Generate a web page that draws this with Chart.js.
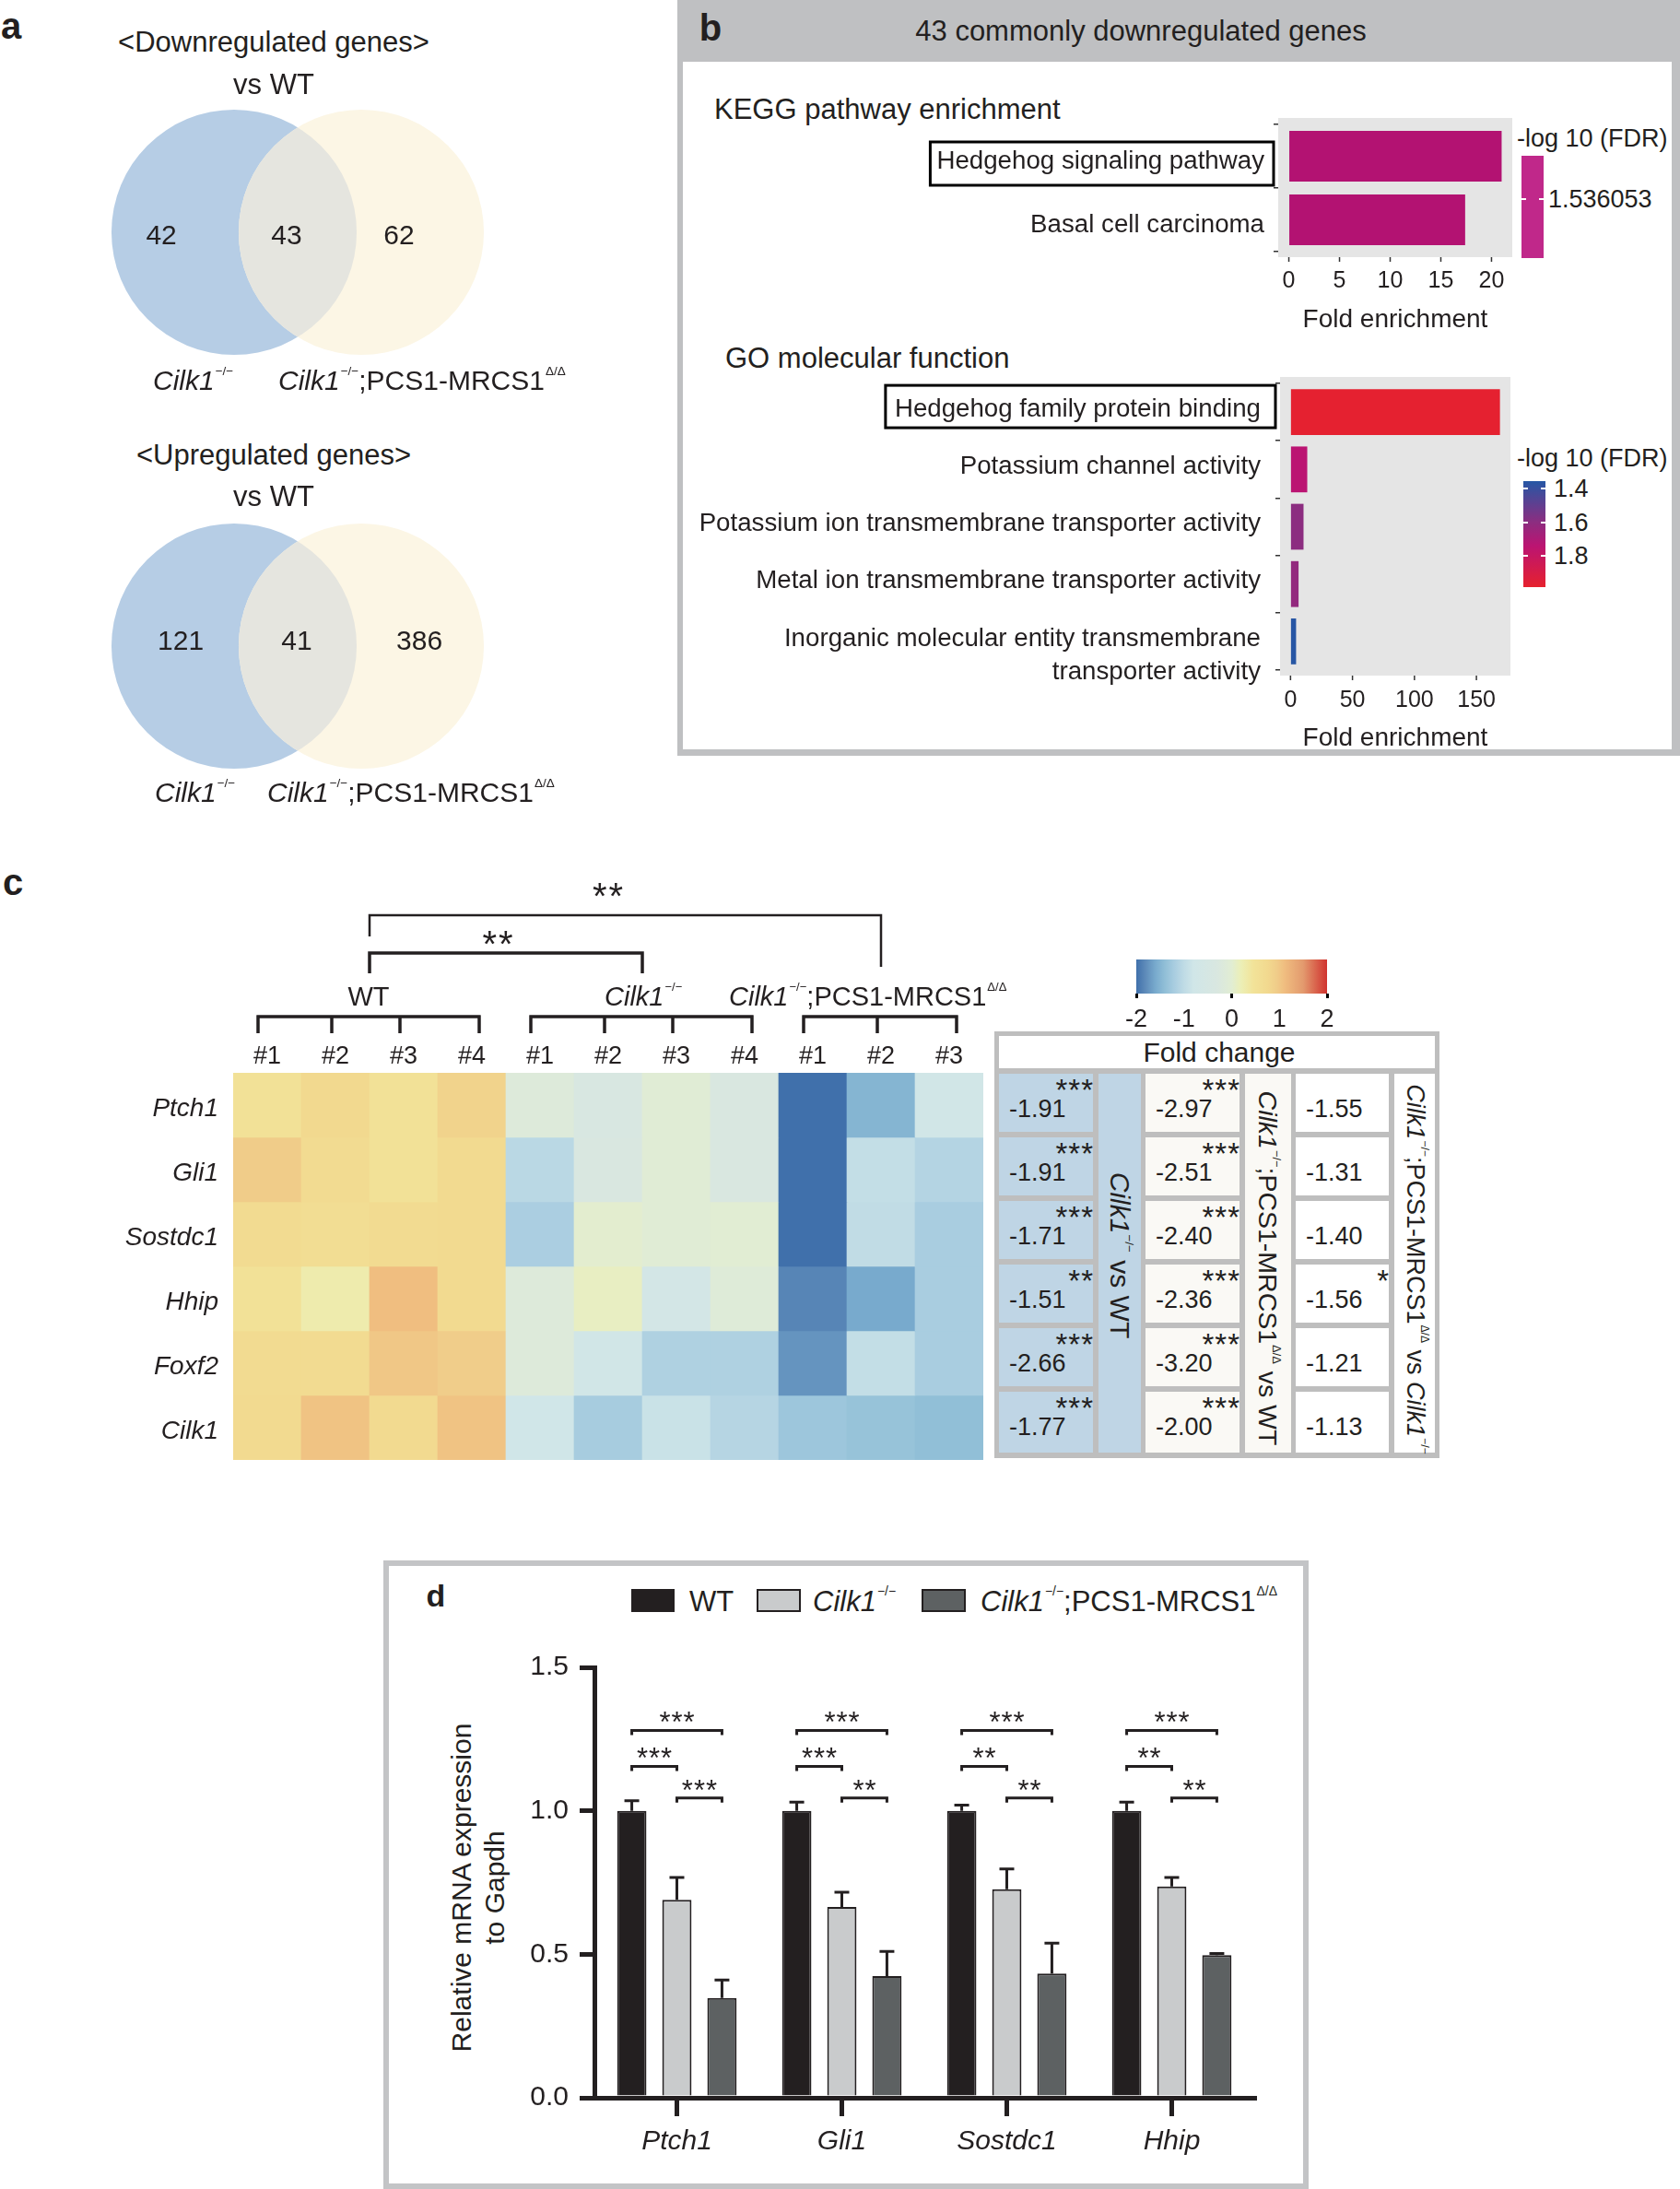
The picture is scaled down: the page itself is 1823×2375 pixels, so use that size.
<!DOCTYPE html>
<html>
<head>
<meta charset="utf-8">
<script src="https://cdn.jsdelivr.net/npm/chart.js@4.4.1/dist/chart.umd.min.js"></script>
<style>
  body { margin: 0; background: #fff; }
  #page { position: relative; width: 1823px; height: 2375px; overflow: hidden;
          font-family: "Liberation Sans", Arial, sans-serif; color: #231f20; }
  .t { position: absolute; white-space: nowrap; line-height: 1; }
  .sp { font-size: 45%; position: relative; top: -1.2em; margin-left: 1px; font-style: normal; }
  .r { position: absolute; box-sizing: border-box; }
  canvas { position: absolute; }
</style>
</head>
<body>
<div id="page"></div>
<script>
// ---- panel a : venn counts
const vennSets = ['Cilk1-/-', 'Cilk1-/-;PCS1-MRCS1'];
const downCounts = [42, 43, 62];
const upCounts = [121, 41, 386];

// ---- panel b : enrichment
const keggTerms = ['Hedgehog signaling pathway', 'Basal cell carcinoma'];
const keggFold = [21.0, 17.4];
const keggFdr = [1.536053, 1.536053];
const goTerms = ['Hedgehog family protein binding', 'Potassium channel activity',
  'Potassium ion transmembrane transporter activity', 'Metal ion transmembrane transporter activity',
  ['Inorganic molecular entity transmembrane', 'transporter activity']];
const goFold = [169, 13.5, 10.5, 6.5, 4.5];
const goFdr = [1.98, 1.74, 1.60, 1.62, 1.36];

// ---- panel c : heatmap (row z-scores) + fold change table
const heatGenes = ['Ptch1', 'Gli1', 'Sostdc1', 'Hhip', 'Foxf2', 'Cilk1'];
const heatSamples = ['#1', '#2', '#3', '#4', '#1', '#2', '#3', '#4', '#1', '#2', '#3'];
const heatGroups = ['WT', 'WT', 'WT', 'WT', 'KO', 'KO', 'KO', 'KO', 'DKO', 'DKO', 'DKO'];
const heatZ = [
  [0.50, 0.75, 0.50, 0.85, -0.15, -0.35, -0.05, -0.30, -2.00, -1.50, -0.75],
  [0.95, 0.70, 0.50, 0.72, -1.05, -0.30, -0.05, -0.30, -2.00, -0.95, -1.10],
  [0.68, 0.62, 0.68, 0.72, -1.18, 0.03, -0.05, 0.00, -2.05, -0.98, -1.20],
  [0.50, 0.28, 1.10, 0.72, -0.15, 0.12, -0.65, -0.12, -1.85, -1.60, -1.20],
  [0.68, 0.68, 1.00, 0.93, -0.15, -0.75, -1.15, -1.15, -1.75, -0.95, -1.20],
  [0.72, 1.05, 0.72, 1.05, -0.78, -1.22, -0.88, -1.08, -1.30, -1.35, -1.40]
];
const fcKoWt = ['-1.91', '-1.91', '-1.71', '-1.51', '-2.66', '-1.77'];
const sigKoWt = ['***', '***', '***', '**', '***', '***'];
const fcDkoWt = ['-2.97', '-2.51', '-2.40', '-2.36', '-3.20', '-2.00'];
const sigDkoWt = ['***', '***', '***', '***', '***', '***'];
const fcDkoKo = ['-1.55', '-1.31', '-1.40', '-1.56', '-1.21', '-1.13'];
const sigDkoKo = ['', '', '', '*', '', ''];
const heatTicks = [-2, -1, 0, 1, 2];

// ---- panel d : qPCR
const qGenes = ['Ptch1', 'Gli1', 'Sostdc1', 'Hhip'];
const wtMean = [1.0, 1.0, 1.0, 1.0];
const wtErr = [0.035, 0.03, 0.02, 0.03];
const koMean = [0.69, 0.665, 0.727, 0.736];
const koErr = [0.078, 0.051, 0.07, 0.032];
const dkoMean = [0.348, 0.424, 0.433, 0.497];
const dkoErr = [0.062, 0.086, 0.106, 0.006];
const sigWtKo = ['***', '***', '**', '**'];
const sigKoDko = ['***', '**', '**', '**'];
const sigWtDko = ['***', '***', '***', '***'];

const FONT = '"Liberation Sans", Arial, sans-serif';
Chart.defaults.font.family = FONT;
Chart.defaults.color = '#231f20';
Chart.defaults.animation = false;
Chart.defaults.responsive = false;
Chart.defaults.maintainAspectRatio = false;
Chart.defaults.plugins.legend.display = false;
Chart.defaults.plugins.tooltip.enabled = false;

const page = document.getElementById('page');
const KO = '<i>Cilk1</i><span class="sp">−/−</span>';
const DKO = KO + ';PCS1-MRCS1<span class="sp">Δ/Δ</span>';

function put(html, x, y, size, anchor, style) {
  const d = document.createElement('div');
  d.className = 't';
  d.innerHTML = html;
  d.style.left = x + 'px';
  d.style.top = y + 'px';
  d.style.fontSize = size + 'px';
  const tx = anchor === 'l' ? '0' : anchor === 'r' ? '-100%' : '-50%';
  d.style.transform = 'translate(' + tx + ',-50%)';
  if (style) d.style.cssText += style;
  page.appendChild(d);
  return d;
}
function rect(x, y, w, h, bg, style) {
  const d = document.createElement('div');
  d.className = 'r';
  d.style.cssText = `left:${x}px;top:${y}px;width:${w}px;height:${h}px;background:${bg};` + (style || '');
  page.appendChild(d);
  return d;
}
function canvasAt(x, y, w, h) {
  const c = document.createElement('canvas');
  c.width = w; c.height = h;
  c.style.left = x + 'px'; c.style.top = y + 'px';
  c.style.width = w + 'px'; c.style.height = h + 'px';
  page.appendChild(c);
  return c;
}
// keep label overhang from shrinking the plot area
function noPad(s) { s.paddingTop = 0; s.paddingBottom = 0; s.paddingLeft = 0; s.paddingRight = 0; }
function hex2rgb(h) { return [1, 3, 5].map(i => parseInt(h.substr(i, 2), 16)); }
function rampColor(stops, v) {
  if (v <= stops[0][0]) return stops[0][1];
  for (let i = 1; i < stops.length; i++) {
    if (v <= stops[i][0]) {
      const [v0, c0] = stops[i - 1], [v1, c1] = stops[i];
      const t = (v - v0) / (v1 - v0), a = hex2rgb(c0), b = hex2rgb(c1);
      return 'rgb(' + a.map((x, k) => Math.round(x + (b[k] - x) * t)).join(',') + ')';
    }
  }
  return stops[stops.length - 1][1];
}
function gradientCss(stops, dir, lo, hi) {
  return 'linear-gradient(' + dir + ',' + stops.map(s => s[1] + ' ' + ((s[0] - lo) / (hi - lo) * 100).toFixed(1) + '%').join(',') + ')';
}

const heatStops = [[-2.0, '#4070ab'], [-1.8, '#5f8cba'], [-1.6, '#78aacd'], [-1.4, '#91bfd7'],
  [-1.2, '#a9cde0'], [-1.0, '#bfdbe5'], [-0.8, '#d0e6e8'], [-0.3, '#d9e7e0'], [0, '#e1edd3'],
  [0.2, '#ecefb6'], [0.45, '#f2e399'], [0.75, '#f2d98f'], [0.95, '#f0cc89'], [1.1, '#f0be80'],
  [1.5, '#e39a6e'], [2.0, '#d0332f']];
const fdrStops = [[1.356, '#2557a5'], [1.6, '#8c2d80'], [1.74, '#bb1472'], [1.986, '#e6212e']];

// ================= panel a =================
const vennPlugin = {
  id: 'venn',
  beforeDatasetsDraw(chart, args, o) {
    const { ctx, scales: { x, y } } = chart;
    const pts = chart.data.datasets[0].data;
    const r = x.getPixelForValue(o.r) - x.getPixelForValue(0);
    const c = pts.map(p => [x.getPixelForValue(p.x), y.getPixelForValue(p.y)]);
    ctx.save();
    ['#b6cde5', '#fcf6e5'].forEach((col, i) => {
      ctx.beginPath(); ctx.arc(c[i][0], c[i][1], r, 0, Math.PI * 2);
      ctx.fillStyle = col; ctx.fill();
    });
    ctx.beginPath(); ctx.arc(c[0][0], c[0][1], r, 0, Math.PI * 2); ctx.clip();
    ctx.beginPath(); ctx.arc(c[1][0], c[1][1], r, 0, Math.PI * 2);
    ctx.fillStyle = '#e5e5df'; ctx.fill();
    ctx.restore();
    ctx.save();
    ctx.font = '30px ' + FONT; ctx.fillStyle = '#231f20';
    ctx.textAlign = 'center'; ctx.textBaseline = 'middle';
    o.counts.forEach((n, i) => ctx.fillText(String(n), x.getPixelForValue(o.labelX[i]), c[0][1] + o.dy));
    ctx.restore();
  }
};
function venn(top, counts, labelX, dy) {
  new Chart(canvasAt(0, top, 735, 320), {
    type: 'scatter',
    data: { datasets: [{ data: vennSets.map((s, i) => ({ x: i, y: 0 })), pointRadius: 0 }] },
    options: {
      scales: { x: { type: 'linear', min: -1.8406, max: 3.4855, display: false },
                y: { min: -1.16, max: 1.16, display: false } },
      plugins: { venn: { counts, labelX, dy, r: 0.964 } }
    },
    plugins: [vennPlugin]
  });
}
venn(92, downCounts, [-0.572, 0.413, 1.297], 5);
venn(541, upCounts, [-0.42, 0.493, 1.457], -4);

put('<b>a</b>', 12, 28, 40);
put('&lt;Downregulated genes&gt;', 297, 45, 31);
put('vs WT', 297, 91, 31);
put(KO, 166, 413, 30, 'l');
put(DKO, 302, 413, 30, 'l');
put('&lt;Upregulated genes&gt;', 297, 493, 31);
put('vs WT', 297, 538, 31);
put(KO, 168, 860, 30, 'l');
put(DKO, 290, 860, 30, 'l');

// ================= panel b =================
rect(735, 0, 1088, 820, '#bfc0c2');
rect(741, 67, 1073, 746, '#ffffff');
put('<b>b</b>', 771, 30, 40);
put('43 commonly downregulated genes', 1238, 33, 31);
put('KEGG pathway enrichment', 775, 118, 31, 'l');
put('GO molecular function', 787, 388, 31, 'l');

// grey ggplot panel, a little taller than the bar slots, with x tick marks under it
const panelBg = {
  id: 'panelBg',
  beforeDraw(chart, args, o) {
    const { ctx, chartArea: c, scales: { x } } = chart;
    const bottom = c.bottom + o.extBottom;
    ctx.save(); ctx.fillStyle = o.color;
    ctx.fillRect(c.left, c.top - o.extTop, c.right - c.left, bottom - c.top + o.extTop);
    ctx.strokeStyle = '#333'; ctx.lineWidth = 1.5;
    x.ticks.forEach(t => {
      const px = x.getPixelForValue(t.value);
      ctx.beginPath(); ctx.moveTo(px, bottom); ctx.lineTo(px, bottom + 5); ctx.stroke();
    });
    ctx.restore();
  }
};
const labelBox = {
  id: 'labelBox',
  afterDraw(chart, args, o) {
    const { ctx, scales: { y }, chartArea } = chart;
    const yy = y.getPixelForTick(o.index) + o.dy;
    ctx.save();
    ctx.font = '27.7px ' + FONT;
    const w = ctx.measureText(chart.data.labels[o.index]).width;
    const right = chartArea.left - 5 - o.pad;
    ctx.lineWidth = 3; ctx.strokeStyle = '#000';
    ctx.strokeRect(right - w - o.padL, yy - o.h / 2, w + o.padL + o.padR, o.h);
    ctx.restore();
  }
};
function foldAxis(min, max, ticks, height, tickPad, titlePad) {
  return {
    type: 'linear', min, max,
    afterBuildTicks: a => { a.ticks = ticks.map(v => ({ value: v })); },
    grid: { drawOnChartArea: false, drawTicks: false },
    border: { display: false },
    ticks: { font: { size: 25, lineHeight: 1.2 }, padding: tickPad },
    title: { display: true, text: 'Fold enrichment', font: { size: 28, lineHeight: 1 },
             padding: { top: 0, bottom: titlePad } },
    afterFit: s => { s.height = height; noPad(s); }
  };
}
function termAxis(width, pad, lh, offset) {
  return {
    grid: { drawOnChartArea: false, tickLength: 5, color: '#333', lineWidth: 1.5 },
    border: { display: false },
    ticks: { font: { size: 27.7, lineHeight: lh }, padding: pad, autoSkip: false, labelOffset: offset,
             // two-line terms: first line level with the bar, second below it
             callback: function (v) { const l = this.getLabelForValue(v); return Array.isArray(l) ? [''].concat(l) : l; } },
    afterFit: s => { s.width = width; noPad(s); }
  };
}

new Chart(canvasAt(745, 120, 900, 250), {
  type: 'bar',
  data: { labels: keggTerms,
          datasets: [{ data: keggFold, backgroundColor: keggFdr.map(() => '#b31272'),
                       barPercentage: 0.8, categoryPercentage: 1 }] },
  options: {
    indexAxis: 'y',
    layout: { padding: { top: 15, right: 4 } },
    scales: { x: foldAxis(-1.05, 22.05, [0, 5, 10, 15, 20], 97, 17, 9), y: termAxis(642, 10, 1.2, 6) },
    plugins: { panelBg: { color: '#e5e5e5', extTop: 7, extBottom: 6 },
               labelBox: { index: 0, dy: 8, h: 47, pad: 10, padL: 7, padR: 10 } }
  },
  plugins: [panelBg, labelBox]
});

new Chart(canvasAt(745, 400, 900, 415), {
  type: 'bar',
  data: { labels: goTerms,
          datasets: [{ data: goFold, backgroundColor: goFdr.map(v => rampColor(fdrStops, v)),
                       barPercentage: 0.8, categoryPercentage: 1 }] },
  options: {
    indexAxis: 'y',
    layout: { padding: { top: 16, right: 6 } },
    scales: { x: foldAxis(-8.45, 177.45, [0, 50, 100, 150], 88, 18, 0), y: termAxis(644, 16, 1.33, -3) },
    plugins: { panelBg: { color: '#e5e5e5', extTop: 7, extBottom: 6 },
               labelBox: { index: 0, dy: -6, h: 46, pad: 16, padL: 10, padR: 16 } }
  },
  plugins: [panelBg, labelBox]
});

// legends
put('-log 10 (FDR)', 1646, 150, 27, 'l');
rect(1651, 169, 24, 111, '#c0288a');
rect(1651, 215, 5, 2, '#fff'); rect(1670, 215, 5, 2, '#fff');
put('1.536053', 1680, 216, 27, 'l');
put('-log 10 (FDR)', 1646, 497, 27, 'l');
rect(1653, 522, 24, 115, gradientCss(fdrStops, 'to bottom', 1.356, 1.986));
[[1.4, 530], [1.6, 567], [1.8, 603]].forEach(([v, yy]) => {
  rect(1653, yy - 1, 5, 2, '#fff'); rect(1672, yy - 1, 5, 2, '#fff');
  put(v.toFixed(1), 1686, yy, 27, 'l');
});

// ================= panel c =================
put('<b>c</b>', 14, 957, 40);
const heatBrackets = {
  id: 'heatBrackets',
  afterDraw(chart) {
    const { ctx, scales: { x } } = chart;
    const cx = i => x.getPixelForValue(i);
    const groups = [];
    heatGroups.forEach((g, i) => {
      const last = groups[groups.length - 1];
      if (last && last.name === g) last.to = i; else groups.push({ name: g, from: i, to: i });
    });
    ctx.save();
    ctx.strokeStyle = '#231f20'; ctx.lineWidth = 3.5;
    const mid = groups.map(g => {
      const a = cx(g.from) - 10, b = cx(g.to) + 8;
      ctx.beginPath(); ctx.moveTo(a - 1.5, 153); ctx.lineTo(b + 1.5, 153);
      ctx.moveTo(a, 151.5); ctx.lineTo(a, 171);
      for (let i = g.from + 1; i < g.to; i++) { ctx.moveTo(cx(i) - 4, 151.5); ctx.lineTo(cx(i) - 4, 171); }
      ctx.moveTo(b, 151.5); ctx.lineTo(b, 171);
      ctx.stroke();
      return (cx(g.from) + cx(g.to)) / 2;
    });
    ctx.beginPath();
    ctx.moveTo(mid[0], 106); ctx.lineTo(mid[0], 84); ctx.lineTo(mid[1], 84); ctx.lineTo(mid[1], 106);
    ctx.stroke();
    ctx.lineWidth = 2.5;
    ctx.beginPath();
    ctx.moveTo(mid[0], 66); ctx.lineTo(mid[0], 43); ctx.lineTo(mid[2], 43); ctx.lineTo(mid[2], 99);
    ctx.stroke();
    ctx.fillStyle = '#231f20'; ctx.font = '40px ' + FONT; ctx.textAlign = 'center';
    ctx.letterSpacing = '2px';
    ctx.fillText('**', (mid[0] + mid[1]) / 2 - 8, 88);
    ctx.fillText('**', (mid[0] + mid[2]) / 2 - 18, 36);
    ctx.restore();
  }
};
new Chart(canvasAt(0, 950, 1070, 640), {
  type: 'bar',
  data: {
    labels: heatSamples,
    datasets: heatGenes.map((g, r) => ({
      label: g,
      data: heatZ[r].map(() => [r, r + 1]),
      backgroundColor: heatZ[r].map(v => rampColor(heatStops, v)),
      grouped: false, barPercentage: 1, categoryPercentage: 1, borderWidth: 0
    }))
  },
  options: {
    layout: { padding: { top: 175, right: 3, bottom: 6, left: 0 } },
    scales: {
      x: { position: 'top', grid: { display: false, drawTicks: false }, border: { display: false },
           ticks: { font: { size: 27, lineHeight: 1 }, padding: 4, autoSkip: false, maxRotation: 0 },
           afterFit: s => { s.height = 39; noPad(s); } },
      y: { min: 0, max: 6, reverse: true, grid: { display: false, drawTicks: false }, border: { display: false },
           afterBuildTicks: a => { a.ticks = heatGenes.map((g, i) => ({ value: i + 0.5 })); },
           ticks: { callback: v => heatGenes[Math.floor(v)], font: { size: 28, style: 'italic' },
                    padding: 16, autoSkip: false, labelOffset: 4 },
           afterFit: s => { s.width = 253; noPad(s); } }
    }
  },
  plugins: [heatBrackets]
});
put('WT', 400, 1081, 29);
put(KO, 656, 1081, 29, 'l');
put(DKO, 791, 1081, 29, 'l');

// heat colour key
rect(1233, 1041, 207, 37, gradientCss(heatStops, 'to right', -2, 2));
heatTicks.forEach(v => {
  const xx = 1233 + (v + 2) / 4 * 207;
  if (v % 2 === 0) rect(xx - 1.5, 1078, 3, 5, '#000');
  put(String(v), xx, 1105, 27);
});

// fold change table
rect(1079, 1119, 483, 463, '#bebebe');
rect(1084, 1124, 473, 35, '#ffffff');
put('Fold change', 1323, 1142, 30);
const valCols = [
  { x: 1084, w: 102, bg: '#bfd5e5', vals: fcKoWt, sig: sigKoWt },
  { x: 1243, w: 102, bg: '#faf9f5', vals: fcDkoWt, sig: sigDkoWt },
  { x: 1406, w: 101, bg: '#ffffff', vals: fcDkoKo, sig: sigDkoKo }
];
valCols.forEach(c => {
  c.vals.forEach((v, i) => {
    const top = 1165 + 69 * i;
    rect(c.x, top, c.w, i === 5 ? 66 : 63, c.bg);
    put(v, c.x + 11, top + 38, 27, 'l');
    if (c.sig[i]) put(c.sig[i], c.x + c.w + 1, top + 17, 33, 'r', 'letter-spacing:1px');
  });
});
const labCols = [
  { x: 1192, w: 46, bg: '#bfd5e5', html: KO + ' vs WT', cy: 1362, size: 30 },
  { x: 1351, w: 50, bg: '#faf9f5', html: DKO + ' vs WT', cy: 1376, size: 28.5 },
  { x: 1513, w: 44, bg: '#ffffff', html: DKO + ' vs ' + KO, cy: 1377, size: 27 }
];
labCols.forEach(c => {
  rect(c.x, 1165, c.w, 411, c.bg);
  put(c.html, c.x + c.w / 2, c.cy, c.size, 'c', 'transform:translate(-50%,-50%) rotate(90deg)');
});

// ================= panel d =================
rect(416, 1693, 1004, 682, 'transparent', 'border:6px solid #c3c4c6');
put('<b>d</b>', 473, 1731, 34);
rect(685, 1724, 47, 25, '#231f20', 'border:2px solid #231f20');
rect(821, 1724, 48, 25, '#c9cbcc', 'border:2px solid #231f20');
rect(1000, 1724, 48, 25, '#5d6162', 'border:2px solid #231f20');
put('WT', 748, 1737, 31, 'l');
put(KO, 882, 1737, 31, 'l');
put(DKO, 1064, 1737, 31, 'l');
put('Relative mRNA expression<br>to Gapdh', 519, 2048, 30, 'c',
    'text-align:center;line-height:36px;transform:translate(-50%,-50%) rotate(-90deg)');

const errBars = {
  id: 'errBars',
  afterDatasetsDraw(chart) {
    const { ctx, scales: { y } } = chart;
    ctx.save();
    ctx.strokeStyle = '#231f20'; ctx.lineWidth = 3;
    chart.data.datasets.forEach((ds, i) => {
      chart.getDatasetMeta(i).data.forEach((bar, j) => {
        const top = y.getPixelForValue(ds.data[j] + ds.errors[j]);
        ctx.beginPath();
        ctx.moveTo(bar.x, bar.y); ctx.lineTo(bar.x, top);
        ctx.moveTo(bar.x - 8, top); ctx.lineTo(bar.x + 8, top);
        ctx.stroke();
      });
    });
    ctx.restore();
  }
};
const sigBrackets = {
  id: 'sigBrackets',
  afterDraw(chart) {
    const { ctx, scales: { y } } = chart;
    const m = [0, 1, 2].map(i => chart.getDatasetMeta(i).data);
    ctx.save();
    ctx.strokeStyle = '#231f20'; ctx.fillStyle = '#231f20'; ctx.lineWidth = 3;
    ctx.font = '31px ' + FONT; ctx.textAlign = 'center';
    ctx.letterSpacing = '1px';
    qGenes.forEach((g, j) => {
      [[0, 2, 1.28, sigWtDko[j]], [0, 1, 1.155, sigWtKo[j]], [1, 2, 1.045, sigKoDko[j]]].forEach(([a, b, h, s]) => {
        const x1 = m[a][j].x, x2 = m[b][j].x, yy = y.getPixelForValue(h);
        ctx.beginPath();
        ctx.moveTo(x1, yy + 5); ctx.lineTo(x1, yy); ctx.lineTo(x2, yy); ctx.lineTo(x2, yy + 5);
        ctx.stroke();
        ctx.fillText(s, (x1 + x2) / 2 + 0.5, yy + 2);
      });
    });
    ctx.restore();
  }
};
const qBar = { barPercentage: 0.65, categoryPercentage: 0.82, borderColor: '#231f20', borderWidth: 2 };
new Chart(canvasAt(420, 1780, 995, 590), {
  type: 'bar',
  data: {
    labels: qGenes,
    datasets: [
      Object.assign({ label: 'WT', data: wtMean, errors: wtErr, backgroundColor: '#231f20' }, qBar),
      Object.assign({ label: 'Cilk1-/-', data: koMean, errors: koErr, backgroundColor: '#c9cbcc' }, qBar),
      Object.assign({ label: 'Cilk1-/-;PCS1-MRCS1', data: dkoMean, errors: dkoErr, backgroundColor: '#5d6162' }, qBar)
    ]
  },
  options: {
    layout: { padding: { top: 29, right: 54, left: 0, bottom: 0 } },
    scales: {
      x: { grid: { drawOnChartArea: false, offset: false, tickLength: 20, lineWidth: 5, color: '#231f20' },
           border: { width: 5, color: '#231f20' },
           ticks: { font: { size: 30, style: 'italic', lineHeight: 1 }, padding: 13 },
           afterFit: s => { s.height = 94; noPad(s); } },
      y: { min: 0, max: 1.5,
           grid: { drawOnChartArea: false, tickLength: 16, lineWidth: 5, color: '#231f20' },
           border: { width: 5, color: '#231f20' },
           ticks: { stepSize: 0.5, callback: v => v.toFixed(1), font: { size: 30 }, padding: 12 },
           afterFit: s => { s.width = 225; noPad(s); } }
    }
  },
  plugins: [errBars, sigBrackets]
});
</script>
</body>
</html>
